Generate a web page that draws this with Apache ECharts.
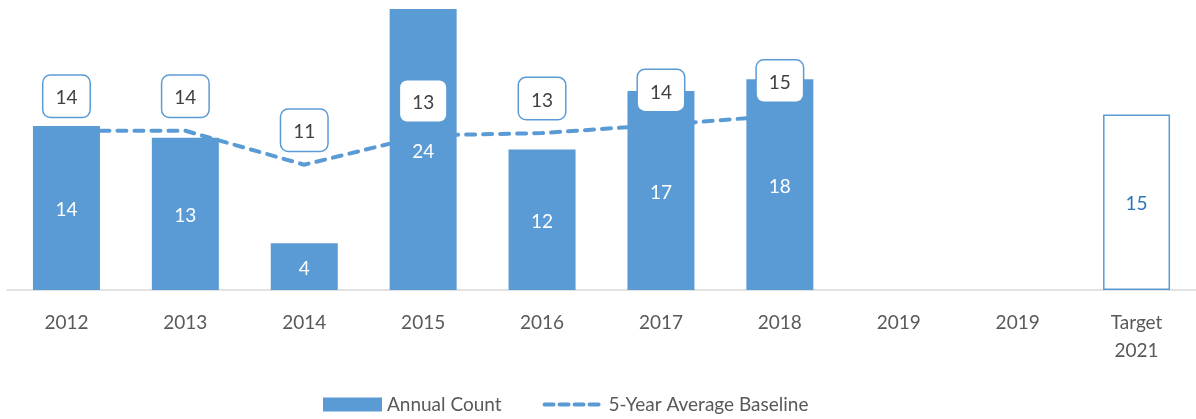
<!DOCTYPE html>
<html><head><meta charset="utf-8">
<script src="https://cdn.jsdelivr.net/npm/echarts@6/dist/echarts.min.js"></script>
<style>html,body{margin:0;padding:0;background:#fff}#c{width:1196px;height:419px}</style>
</head><body><div id="c"></div>
<script>
const categories = ['2012','2013','2014','2015','2016','2017','2018','2019','2019','Target\n2021'];
const annualCount = [14, 13, 4, 24, 12, 17, 18, null, null, 15];
const baseline = [13.6, 13.6, 10.7, 13.2, 13.4, 14.1, 14.9, null, null, null];
const targetIndex = 9;

const FONT = 'Lato';
const BLUE = '#5B9BD5';
const chart = echarts.init(document.getElementById('c'));
const barData = annualCount.map((v, i) => i === targetIndex ? {
  value: v,
  itemStyle: { color: '#ffffff', borderColor: BLUE, borderWidth: 1.5 },
  label: { color: '#2E75B6' }
} : v);

chart.setOption({
  animation: false,
  grid: { left: 7, right: 0, top: 9, bottom: 129 },
  legend: {
    data: [
      { name: 'Annual Count', icon: 'rect' },
      { name: '5-Year Average Baseline', itemStyle: { opacity: 0 }, lineStyle: { width: 4, type: [9, 6], cap: 'round' } }
    ],
    bottom: 0, left: 318,
    itemWidth: 59, itemHeight: 14, itemGap: 41,
    textStyle: { fontFamily: FONT, fontSize: 19, color: '#595959' }
  },
  xAxis: {
    type: 'category', data: categories,
    axisLine: { lineStyle: { color: '#D9D9D9', width: 1.5 } },
    axisTick: { show: false },
    axisLabel: { fontFamily: FONT, fontSize: 19, color: '#595959', margin: 19, lineHeight: 28, interval: 0 }
  },
  yAxis: { type: 'value', min: 0, max: 24, show: false, splitLine: { show: false } },
  series: [
    {
      name: '5-Year Average Baseline', type: 'line', data: baseline, z: 1,
      symbol: 'none', connectNulls: false,
      itemStyle: { color: BLUE },
      lineStyle: { color: BLUE, width: 4, type: [9, 8], cap: 'round' }
    },
    {
      name: 'Annual Count', type: 'bar', data: barData, z: 2, barWidth: 67,
      itemStyle: { color: BLUE },
      label: { show: true, position: 'inside', offset: [0, 2], color: '#ffffff', fontFamily: FONT, fontSize: 19 }
    },
    {
      name: 'baselineLabels', type: 'scatter', data: baseline, z: 5,
      symbolSize: 0, silent: true,
      itemStyle: { opacity: 1 },
      label: {
        show: true, position: 'top', distance: 14,
        formatter: p => Math.round(p.value),
        fontFamily: FONT, fontSize: 19, color: '#404040',
        backgroundColor: '#ffffff', borderColor: BLUE, borderWidth: 1.5, borderRadius: 7,
        padding: [13, 12, 9, 12]
      }
    }
  ]
});
</script></body></html>
